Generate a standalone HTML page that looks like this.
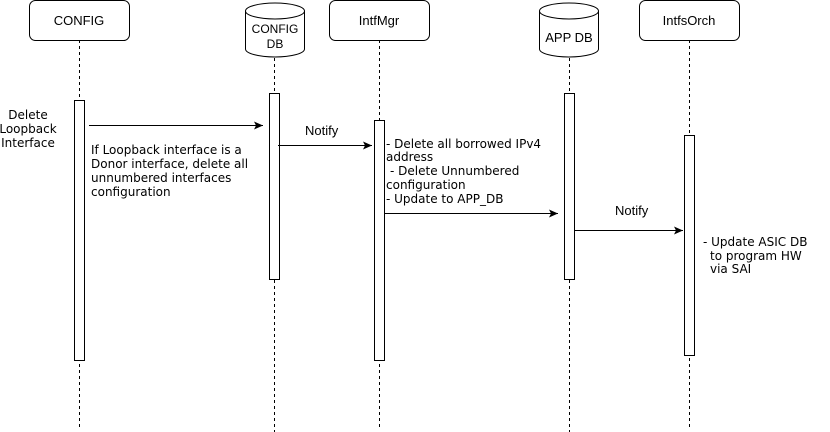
<!DOCTYPE html>
<html><head><meta charset="utf-8"><style>
html,body{margin:0;padding:0;background:#fff;width:830px;height:432px;overflow:hidden}
svg text{font-family:"DejaVu Sans","Liberation Sans",sans-serif;font-size:12px;fill:#000}
svg text.h{font-family:"Liberation Sans",sans-serif;font-size:13px}
</style></head><body>
<svg width="830" height="432" viewBox="0 0 830 432" xmlns="http://www.w3.org/2000/svg">
<defs><marker id="a" markerWidth="10" markerHeight="8" refX="9" refY="4" orient="auto" markerUnits="userSpaceOnUse"><path d="M0,0 L9,4 L0,8 L2,4 z" fill="#000"/></marker></defs>
<g stroke="#000" stroke-width="1" stroke-dasharray="3,3" fill="none">
<line x1="79.5" y1="40" x2="79.5" y2="427"/>
<line x1="274.5" y1="58" x2="274.5" y2="432"/>
<line x1="379.5" y1="40" x2="379.5" y2="427"/>
<line x1="569.5" y1="58" x2="569.5" y2="432"/>
<line x1="689.5" y1="40" x2="689.5" y2="427"/>
</g>
<g stroke="#000" fill="#fff">
<rect x="29.5" y="0.5" width="100" height="40" rx="6"/>
<rect x="329.5" y="0.5" width="100" height="40" rx="6"/>
<rect x="639.5" y="0.5" width="100" height="40" rx="6"/>
<path d="M245.5,11 L245.5,49 A29.5,8 0 0 0 304.5,49 L304.5,11 A29.5,8 0 0 0 245.5,11 A29.5,8 0 0 0 304.5,11"/>
<path d="M539.5,11 L539.5,49 A29.5,8 0 0 0 598.5,49 L598.5,11 A29.5,8 0 0 0 539.5,11 A29.5,8 0 0 0 598.5,11"/>
<rect x="74.5" y="100.5" width="10" height="260"/>
<rect x="269.5" y="93.5" width="10" height="186"/>
<rect x="374.5" y="120.5" width="10" height="240"/>
<rect x="564.5" y="93.5" width="10" height="186"/>
<rect x="684.5" y="135.5" width="10" height="220"/>
</g>
<text class="h" x="79" y="25" text-anchor="middle">CONFIG</text>
<text class="h" x="275" y="33" text-anchor="middle" style="font-size:12px">CONFIG</text>
<text class="h" x="275" y="48" text-anchor="middle" style="font-size:12px">DB</text>
<text class="h" x="379" y="25" text-anchor="middle">IntfMgr</text>
<text class="h" x="569" y="42" text-anchor="middle">APP DB</text>
<text class="h" x="689" y="25" text-anchor="middle">IntfsOrch</text>
<g stroke="#000" fill="none" marker-end="url(#a)">
<line x1="89" y1="125.5" x2="263" y2="125.5"/>
<line x1="278" y1="145.5" x2="372" y2="145.5"/>
<line x1="385" y1="213.5" x2="558" y2="213.5"/>
<line x1="575" y1="230.5" x2="683" y2="230.5"/>
</g>
<text x="28" y="119" text-anchor="middle">Delete</text>
<text x="28" y="133" text-anchor="middle">Loopback</text>
<text x="28" y="147" text-anchor="middle">Interface</text>
<text class="h" x="305" y="135">Notify</text>
<text class="h" x="615" y="215">Notify</text>
<text x="91" y="154">If Loopback interface is a</text>
<text x="91" y="168">Donor interface, delete all</text>
<text x="91" y="182">unnumbered interfaces</text>
<text x="91" y="196">configuration</text>
<text x="386" y="148">- Delete all borrowed IPv4</text>
<text x="386" y="161">address</text>
<text x="390" y="175">- Delete Unnumbered</text>
<text x="386" y="189">configuration</text>
<text x="386" y="203">- Update to APP_DB</text>
<text x="703" y="246">- Update ASIC DB</text>
<text x="710" y="260">to program HW</text>
<text x="710" y="273">via SAI</text>
</svg>
</body></html>
